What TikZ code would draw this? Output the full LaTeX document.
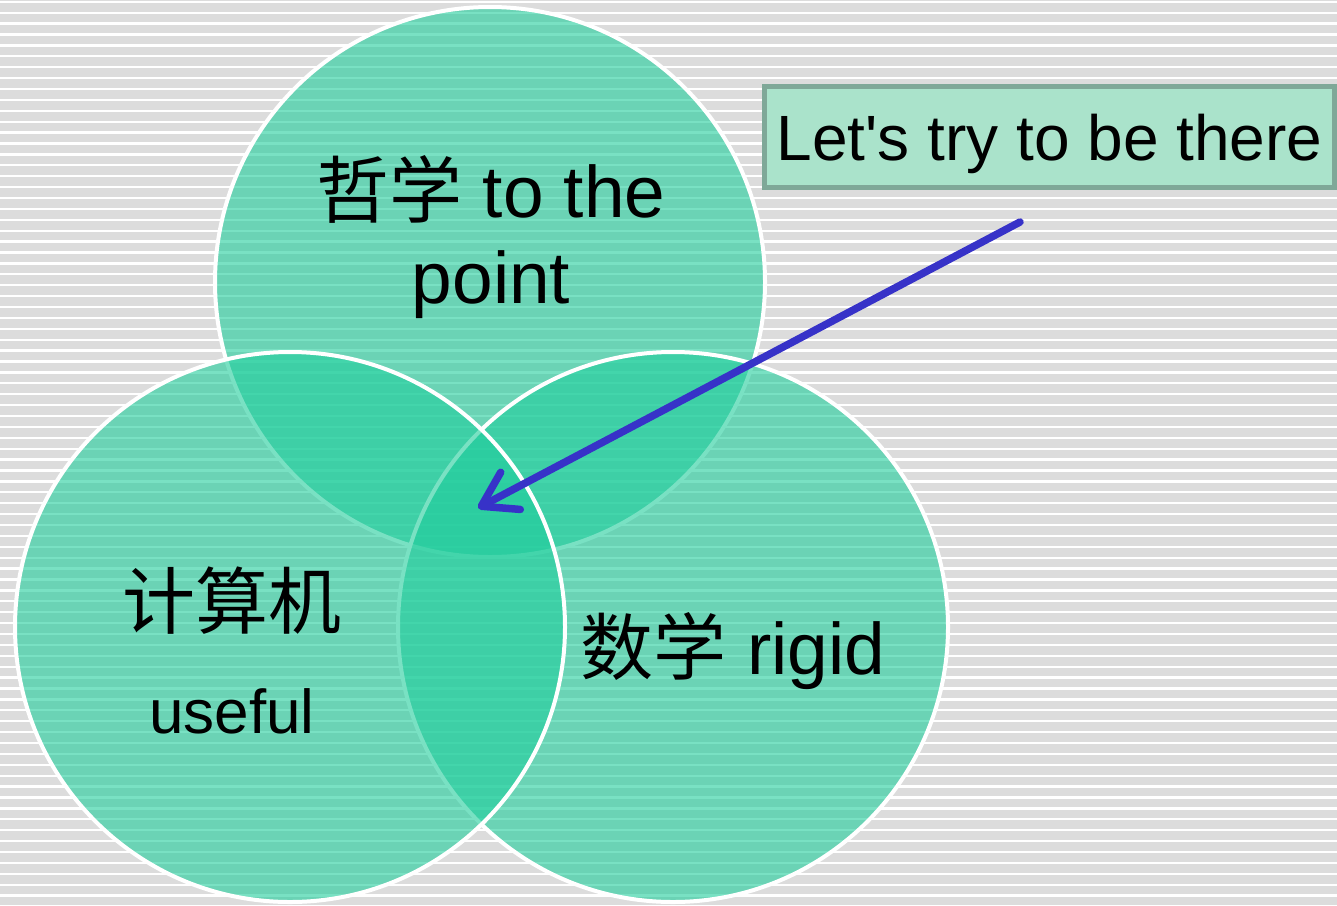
\documentclass[tikz,border=0pt]{standalone}
\usepackage{fontspec}
\setmainfont{Liberation Sans}
\newfontfamily\notefont{Liberation Sans}
\newfontfamily\cjk{Noto Sans CJK SC}
\usetikzlibrary{arrows.meta}
\definecolor{bggray}{RGB}{220,220,220}
\definecolor{teal}{RGB}{32,205,156}
\definecolor{boxfill}{RGB}{170,227,203}
\definecolor{boxline}{RGB}{127,168,152}
\definecolor{arrowblue}{RGB}{55,50,200}
\tikzset{
  venn/.style={circle, minimum size=550pt, inner sep=0pt, fill=teal, fill opacity=0.6, draw=white, draw opacity=1, line width=4pt},
  bigtext/.style={anchor=base, inner sep=0pt, font=\fontsize{73}{86}\selectfont},
  smalltext/.style={anchor=base, inner sep=0pt, font=\fontsize{62}{74}\selectfont},
  notebox/.style={draw=boxline, line width=5pt, fill=boxfill, inner sep=0pt, minimum width=570pt, minimum height=101pt, text height=60pt, text depth=14pt, font=\notefont\fontsize{64}{76}\selectfont},
  pointer/.style={draw=arrowblue, line width=7.5pt, line cap=round, -{Straight Barb[length=33pt, width=42pt, round]}}
}
\begin{document}
\begin{tikzpicture}[x=1pt, y=-1pt]
\useasboundingbox (0,0) rectangle (1337,905);
\fill[bggray] (0,0) rectangle (1337,905);
\foreach \k in {0,...,83} {
  \fill[white] (0,{0.6+10.9*\k}) rectangle (1337,{2.9+10.9*\k});
}
\node[venn] (top) at (490,282) {};
\node[venn] (right) at (673,627) {};
\node[venn] (left) at (290,627) {};
\node[bigtext] (topA) at (491,217) {{\cjk 哲学} to the};
\node[bigtext] (topB) at (491,303) {point};
\node[bigtext] (leftA) at (232,628) {\cjk 计算机};
\node[smalltext] (leftB) at (232,733) {useful};
\node[bigtext] (rightA) at (733,674) {{\cjk 数学} rigid};
\node[notebox] (box) at (1049.5,137) {Let's try to be there};
\coordinate (arrowStart) at (1020,222);
\coordinate (arrowTip) at (478,508);
\draw[pointer] (arrowStart) -- (arrowTip);
\end{tikzpicture}
\end{document}
